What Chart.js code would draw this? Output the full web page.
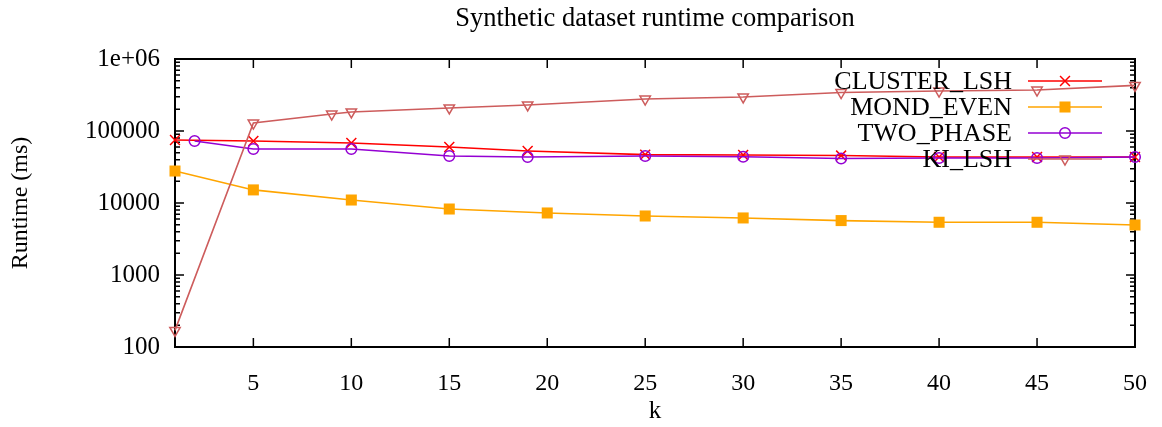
<!DOCTYPE html>
<html>
<head>
<meta charset="utf-8">
<script src="https://cdn.jsdelivr.net/npm/chart.js@4/dist/chart.umd.min.js"></script>
<style>
  html, body { margin: 0; padding: 0; background: #fff; }
  #wrap { width: 1162px; height: 427px; }
</style>
</head>
<body>
<div id="wrap"><canvas id="c" width="1162" height="427"></canvas></div>
<script>
// Runtime (ms) per k for each method
const kCluster   = [1, 5, 10, 15, 19, 25, 30, 35, 40, 45, 50];
const clusterLsh = [75000, 72600, 68100, 60000, 52700, 47000, 46400, 45600, 43600, 43600, 43600];

const kMond    = [1, 5, 10, 15, 20, 25, 30, 35, 40, 45, 50];
const mondEven = [27800, 15200, 11000, 8250, 7270, 6600, 6200, 5700, 5400, 5400, 4950];

const kTwo     = [2, 5, 10, 15, 19, 25, 30, 35, 40, 45, 50];
const twoPhase = [72600, 56200, 56200, 45000, 43600, 45000, 43800, 41500, 42200, 42200, 43600];

const kKi   = [1, 5, 9, 10, 15, 19, 25, 30, 35, 40, 45, 50];
const kiLsh = [170, 129000, 172000, 184000, 209000, 230000, 278000, 297000, 342000, 359000, 371000, 430000];

const seriesNames = ['CLUSTER_LSH', 'MOND_EVEN', 'TWO_PHASE', 'KI_LSH'];

// Axis ticks
const xTickValues = [5, 10, 15, 20, 25, 30, 35, 40, 45, 50];
const xTickLabels = ['5', '10', '15', '20', '25', '30', '35', '40', '45', '50'];
const yTickValues = [100, 1000, 10000, 100000, 1000000];
const yTickLabels = ['100', '1000', '10000', '100000', '1e+06'];

const chartTitle = 'Synthetic dataset runtime comparison';
const xTitle = 'k';
const yTitle = 'Runtime (ms)';

const SERIF = '"Liberation Serif", "Times New Roman", serif';

function pts(xs, ys) { return xs.map((x, i) => ({ x: x, y: ys[i] })); }

const datasets = [
  { label: seriesNames[0], data: pts(kCluster, clusterLsh), borderColor: '#ff0000', backgroundColor: '#ff0000',
    pointStyle: 'crossRot', pointRadius: 7, pointBorderWidth: 1.5, order: 3 },
  { label: seriesNames[1], data: pts(kMond, mondEven), borderColor: '#ffa500', backgroundColor: '#ffa500',
    pointStyle: 'rect', pointRadius: 7.8, pointBorderWidth: 0, order: 2 },
  { label: seriesNames[2], data: pts(kTwo, twoPhase), borderColor: '#9400d3', backgroundColor: 'rgba(0,0,0,0)',
    pointStyle: 'circle', pointRadius: 5.3, pointBorderWidth: 1.5, order: 1 },
  { label: seriesNames[3], data: pts(kKi, kiLsh), borderColor: '#cd5c5c', backgroundColor: 'rgba(0,0,0,0)',
    pointStyle: 'triangle', pointRotation: 180, pointRadius: 6, pointBorderWidth: 1.5, order: 0 }
].map(d => Object.assign({
  borderWidth: 1.6, tension: 0, clip: false, fill: false,
  pointBackgroundColor: d.backgroundColor, pointBorderColor: d.borderColor
}, d));

// Frame, inward ticks, title and key in gnuplot style
const decorPlugin = {
  id: 'decor',
  beforeDatasetsDraw(chart) {
    const ctx = chart.ctx, a = chart.chartArea;
    const xs = chart.scales.x, ys = chart.scales.y;
    ctx.save();
    ctx.strokeStyle = '#000';
    ctx.lineWidth = 1.5;
    ctx.beginPath();
    // y ticks: majors at decades, minors at 2..9
    for (let d = 0; d < yTickValues.length; d++) {
      const dec = yTickValues[d];
      const py = ys.getPixelForValue(dec);
      ctx.moveTo(a.left, py); ctx.lineTo(a.left + 9, py);
      ctx.moveTo(a.right, py); ctx.lineTo(a.right - 9, py);
      if (d < yTickValues.length - 1) {
        for (let m = 2; m <= 9; m++) {
          const pm = ys.getPixelForValue(dec * m);
          ctx.moveTo(a.left, pm); ctx.lineTo(a.left + 5, pm);
          ctx.moveTo(a.right, pm); ctx.lineTo(a.right - 5, pm);
        }
      }
    }
    xTickValues.forEach(v => {
      const px = xs.getPixelForValue(v);
      ctx.moveTo(px, a.bottom); ctx.lineTo(px, a.bottom - 9);
      ctx.moveTo(px, a.top); ctx.lineTo(px, a.top + 9);
    });
    ctx.stroke();
    ctx.lineWidth = 2;
    ctx.strokeRect(a.left, a.top, a.right - a.left, a.bottom - a.top);
    ctx.restore();
  },
  afterDatasetsDraw(chart) {
    const ctx = chart.ctx, a = chart.chartArea;
    ctx.save();
    // title
    ctx.fillStyle = '#000';
    ctx.font = '26.5px ' + SERIF;
    ctx.textAlign = 'center';
    ctx.textBaseline = 'middle';
    ctx.fillText(chartTitle, (a.left + a.right) / 2, 19);
    // key
    const textRight = 1012, lineL = 1028, lineR = 1102, markX = 1065;
    const rowY0 = 81, rowGap = 26;
    ctx.font = '26px ' + SERIF;
    ctx.textAlign = 'right';
    chart.data.datasets.forEach((ds, i) => {
      const y = rowY0 + i * rowGap;
      ctx.fillStyle = '#000';
      ctx.fillText(ds.label, textRight, y + 1);
      ctx.strokeStyle = ds.borderColor;
      ctx.lineWidth = ds.borderWidth;
      ctx.beginPath(); ctx.moveTo(lineL, y); ctx.lineTo(lineR, y); ctx.stroke();
      ctx.fillStyle = ds.pointBackgroundColor;
      ctx.strokeStyle = ds.pointBorderColor;
      ctx.lineWidth = ds.pointBorderWidth;
      Chart.helpers.drawPoint(ctx, {
        pointStyle: ds.pointStyle, rotation: ds.pointRotation || 0,
        radius: ds.pointRadius, borderWidth: ds.pointBorderWidth
      }, markX, y);
    });
    ctx.restore();
  }
};

new Chart(document.getElementById('c'), {
  type: 'line',
  data: { datasets: datasets },
  plugins: [decorPlugin],
  options: {
    responsive: false,
    animation: false,
    events: [],
    layout: { padding: { top: 59, right: 27, left: 0, bottom: 0 } },
    plugins: { legend: { display: false }, tooltip: { enabled: false }, title: { display: false } },
    scales: {
      x: {
        type: 'linear', min: 1, max: 50,
        afterBuildTicks: s => { s.ticks = xTickValues.map(v => ({ value: v })); },
        afterFit: s => { s.height = 80; s.paddingLeft = 0; s.paddingRight = 0; },
        grid: { display: false, drawTicks: false },
        border: { display: false },
        ticks: {
          autoSkip: false, maxRotation: 0, padding: 22, color: '#000',
          font: { family: SERIF, size: 24 },
          callback: (v, i) => xTickLabels[i]
        },
        title: { display: true, text: xTitle, color: '#000', font: { family: SERIF, size: 25 }, padding: { top: 0, bottom: 1 } }
      },
      y: {
        type: 'logarithmic', min: 100, max: 1000000,
        afterBuildTicks: s => { s.ticks = yTickValues.map(v => ({ value: v })); },
        afterFit: s => { s.width = 175; s.paddingTop = 0; s.paddingBottom = 0; },
        grid: { display: false, drawTicks: false },
        border: { display: false },
        ticks: {
          autoSkip: false, padding: 15, color: '#000',
          font: { family: SERIF, size: 25 },
          callback: (v, i) => yTickLabels[i]
        },
        title: { display: true, text: yTitle, color: '#000', font: { family: SERIF, size: 24 }, padding: { top: 6, bottom: 0 } }
      }
    }
  }
});
</script>
</body>
</html>
